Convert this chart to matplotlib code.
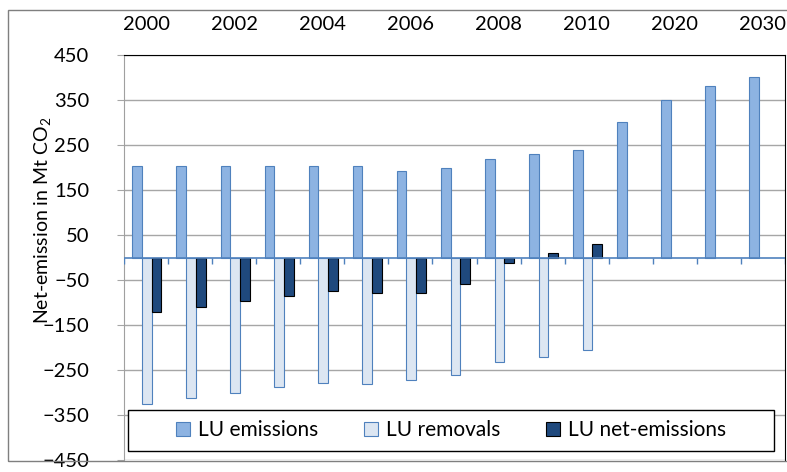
import numpy as np
import matplotlib
matplotlib.use("Agg")
import matplotlib.pyplot as plt
from matplotlib.patches import Rectangle

plt.rcParams['font.family'] = ['Lato', 'DejaVu Sans']
plt.rcParams['mathtext.default'] = 'regular'

# Data
years = ['2000', '2001', '2002', '2003', '2004', '2005', '2006', '2007',
         '2008', '2009', '2010', '2015', '2020', '2025', '2030']
emissions = [203, 203, 203, 203, 203, 203, 193, 200, 220, 230, 240,
             300, 350, 380, 400]
removals = [-325, -313, -300, -288, -279, -282, -272, -260, -233, -220, -205,
            np.nan, np.nan, np.nan, np.nan]
net_emissions = [-122, -110, -97, -86, -74, -79, -79, -59, -12, 9, 31,
                 np.nan, np.nan, np.nan, np.nan]
yticks = [450, 350, 250, 150, 50, -50, -150, -250, -350, -450]

fig = plt.figure(figsize=(7.87, 4.72), dpi=100)
ax = fig.add_axes([124 / 787, 12 / 472, 661 / 787, 405 / 472])

x = np.arange(len(years))
w = 0.22
ax.bar(x - 0.2, emissions, w, color='#8DB3E2', edgecolor='#4F81BD', linewidth=0.8,
       label='LU emissions', zorder=3)
ax.bar(x + 0.02, removals, w, color='#DCE6F2', edgecolor='#4F81BD', linewidth=0.8,
       label='LU removals', zorder=3)
ax.bar(x + 0.24, net_emissions, w, color='#1F497D', edgecolor='black', linewidth=0.8,
       label='LU net-emissions', zorder=3)

ax.set_xlim(-0.5, len(years) - 0.5)
ax.set_ylim(-450, 450)
ax.set_yticks(yticks)
ax.yaxis.grid(True, color='#A6A6A6', linewidth=1, zorder=0)
ax.tick_params(axis='y', labelsize=14.5, length=5, color='#A6A6A6', pad=20)

# category labels on top, every second one
ax.xaxis.tick_top()
ax.set_xticks(x[::2])
ax.set_xticklabels(years[::2])
ax.tick_params(axis='x', labelsize=14.5, length=0, pad=16)

# zero axis line with category tick marks
ax.axhline(0, color='#4F81BD', linewidth=1.2, zorder=4)
ax.vlines(np.arange(len(years) + 1) - 0.5, -15, 0, color='#4F81BD', linewidth=1, zorder=4)

ax.spines['bottom'].set_visible(False)
ax.spines['left'].set_color('#A0A0A0')
ax.spines['top'].set_color('black')
ax.spines['right'].set_color('black')

# legend box
ax.add_patch(Rectangle((4 / 661, 9 / 405), 646 / 661, 41 / 405, transform=ax.transAxes,
                       facecolor='white', edgecolor='black', linewidth=1, zorder=5))
ax.legend(loc='center', bbox_to_anchor=(0.495, 29.5 / 405), ncol=3, frameon=False,
          fontsize=15, handlelength=0.65, handleheight=0.65, handletextpad=0.4,
          columnspacing=2.2).set_zorder(6)

fig.text(43 / 787, 1 - 220 / 472, 'Net-emission in Mt CO$_2$', rotation=90,
         ha='center', va='center', fontsize=14)

# outer chart frame
fig.patches.append(Rectangle((8 / 787, 11 / 472), 1.0, 451 / 472, transform=fig.transFigure,
                             fill=False, edgecolor='#7F7F7F', linewidth=1))

fig.savefig('out.png', dpi=100)
